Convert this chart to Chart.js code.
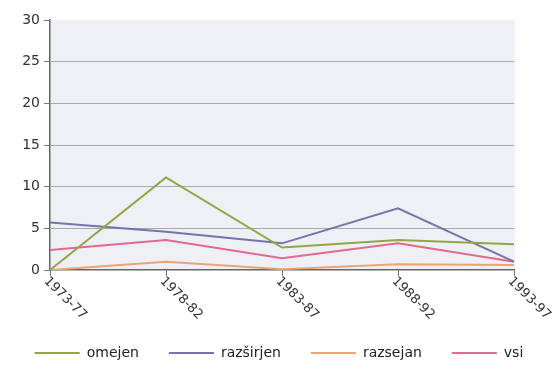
<!DOCTYPE html>
<html>
<head>
<meta charset="utf-8">
<script src="https://cdn.jsdelivr.net/npm/chart.js@4/dist/chart.umd.min.js"></script>
<style>
  html, body { margin: 0; padding: 0; background: #fff; }
  #wrap { width: 558px; height: 370px; }
</style>
</head>
<body>
<div id="wrap"><canvas id="c" width="558" height="370"></canvas></div>
<script>
  // data
  const periods = ['1973-77', '1978-82', '1983-87', '1988-92', '1993-97'];
  const omejen = [0, 11.1, 2.7, 3.6, 3.1];
  const razsirjen = [5.7, 4.6, 3.2, 7.4, 1.0];
  const razsejan = [0, 1.0, 0.1, 0.7, 0.6];
  const vsi = [2.4, 3.6, 1.4, 3.2, 1.0];
  const yTicks = [0, 5, 10, 15, 20, 25, 30];

  const FONT = '"DejaVu Sans", sans-serif';

  function line(label, data, color) {
    return {
      label: label,
      data: data,
      borderColor: color,
      backgroundColor: color,
      borderWidth: 2,
      pointRadius: 0,
      tension: 0
    };
  }

  // light plot background
  const plotBg = {
    id: 'plotBg',
    beforeDraw(chart) {
      const a = chart.chartArea;
      const ctx = chart.ctx;
      ctx.save();
      ctx.fillStyle = '#eef0f5';
      ctx.fillRect(a.left, a.top, a.right - a.left + 1, a.bottom - a.top);
      ctx.restore();
    }
  };

  // x labels rotated clockwise, starting at each tick
  const slantLabels = {
    id: 'slantLabels',
    afterDraw(chart) {
      const x = chart.scales.x;
      const ctx = chart.ctx;
      ctx.save();
      ctx.font = '13px ' + FONT;
      ctx.fillStyle = '#333';
      ctx.textAlign = 'left';
      ctx.textBaseline = 'middle';
      periods.forEach((p, i) => {
        const px = x.getPixelForTick(i);
        ctx.save();
        ctx.translate(px - 4, x.top + 9);
        ctx.rotate(Math.PI / 4);
        ctx.fillText(p, 0, 0);
        ctx.restore();
      });
      ctx.restore();
    }
  };

  new Chart(document.getElementById('c'), {
    type: 'line',
    data: {
      labels: periods,
      datasets: [
        line('omejen', omejen, '#93a546'),
        line('razširjen', razsirjen, '#7274ab'),
        line('razsejan', razsejan, '#eba473'),
        line('vsi', vsi, '#e2698f')
      ]
    },
    options: {
      responsive: false,
      animation: false,
      layout: { padding: { top: 20, right: 0, left: 0, bottom: 0 } },
      plugins: {
        tooltip: { enabled: false },
        legend: {
          position: 'bottom',
          labels: {
            usePointStyle: true,
            pointStyle: 'line',
            pointStyleWidth: 45,
            padding: 30,
            color: '#222',
            font: { family: FONT, size: 14 }
          }
        }
      },
      scales: {
        x: {
          offset: false,
          grid: { drawOnChartArea: false, drawTicks: true, tickLength: 6, tickColor: '#777' },
          border: { color: '#666', width: 1.5 },
          ticks: { display: false },
          afterFit(s) { s.height = 46; }
        },
        y: {
          min: 0,
          max: 30,
          afterBuildTicks(s) { s.ticks = yTicks.map(v => ({ value: v })); },
          grid: {
            color: c => (c.tick.value === 0 || c.tick.value === 30) ? 'rgba(0,0,0,0)' : '#a9a9a9',
            tickColor: '#777',
            tickLength: 6
          },
          border: { color: '#666', width: 1.5 },
          ticks: {
            color: '#333',
            padding: 4,
            font: { family: FONT, size: 14 }
          },
          afterFit(s) { s.width = 50; }
        },
        // empty right-hand strip, keeps the legend full width
        yRight: {
          position: 'right',
          min: 0,
          max: 30,
          grid: { display: false },
          border: { display: false },
          ticks: { display: false },
          afterFit(s) { s.width = 44; }
        }
      }
    },
    plugins: [plotBg, slantLabels]
  });
</script>
</body>
</html>
